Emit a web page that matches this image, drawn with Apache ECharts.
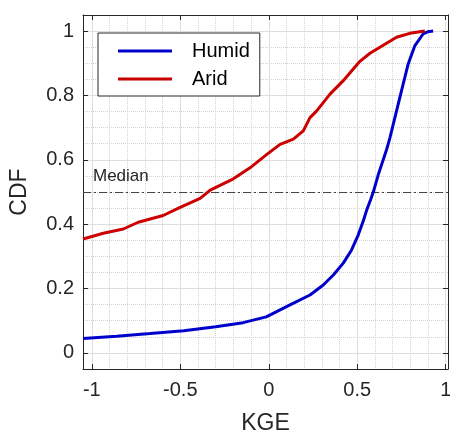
<!DOCTYPE html>
<html>
<head>
<meta charset="utf-8">
<script src="https://cdn.jsdelivr.net/npm/echarts@6/dist/echarts.min.js"></script>
<style>
  html, body { margin: 0; padding: 0; background: #fff; }
  #main { width: 450px; height: 435px; }
</style>
</head>
<body>
<div id="main"></div>
<script>
// valores
var humidKge = [-1.05, -0.86, -0.67, -0.48, -0.30, -0.145, -0.014, 0.120, 0.233, 0.308, 0.365, 0.421, 0.468, 0.506, 0.534, 0.553, 0.575, 0.592, 0.619, 0.666, 0.685, 0.741, 0.788, 0.826, 0.872, 0.90, 0.929];
var humidCdf = [0.045, 0.052, 0.060, 0.069, 0.081, 0.094, 0.112, 0.149, 0.180, 0.211, 0.242, 0.279, 0.320, 0.367, 0.410, 0.443, 0.475, 0.502, 0.554, 0.632, 0.669, 0.794, 0.898, 0.955, 0.991, 0.998, 1.0];

var aridKge = [-1.05, -0.935, -0.822, -0.738, -0.597, -0.501, -0.388, -0.331, -0.200, -0.106, -0.011, 0.064, 0.139, 0.195, 0.233, 0.271, 0.346, 0.421, 0.515, 0.572, 0.628, 0.722, 0.797, 0.882];
var aridCdf = [0.354, 0.372, 0.385, 0.406, 0.427, 0.452, 0.480, 0.506, 0.541, 0.575, 0.617, 0.648, 0.664, 0.690, 0.731, 0.752, 0.804, 0.846, 0.906, 0.931, 0.950, 0.981, 0.993, 1.0];

var medianCdf = 0.5;
var xLimits = [-1.05, 1.013];
var yLimits = [-0.05, 1.05];

function pares(xs, ys) {
    var out = [];
    for (var i = 0; i < xs.length; i++) {
        out.push([xs[i], ys[i]]);
    }
    return out;
}

var fuente = 'Liberation Sans';
var negro = '#262626';

var myChart = echarts.init(document.getElementById('main'), null, { renderer: 'canvas' });

var ejeBase = {
    type: 'value',
    axisLine: { show: true, onZero: false, lineStyle: { color: negro, width: 1 } },
    axisTick: { show: true, inside: true, length: 5, lineStyle: { color: negro } },
    axisLabel: { show: false },
    splitLine: { show: false }
};

var option = {
    animation: false,
    grid: { left: 83, right: 2, top: 15, bottom: 66, containLabel: false, outerBoundsMode: 'none' },
    textStyle: { fontFamily: fuente },
    legend: {
        orient: 'vertical',
        left: 98,
        top: 33,
        padding: [8, 10, 7, 20],
        itemGap: 8,
        itemWidth: 54,
        itemHeight: 3,
        icon: 'rect',
        borderColor: negro,
        borderWidth: 1,
        backgroundColor: '#fff',
        textStyle: { fontSize: 20, color: '#000', fontFamily: fuente, padding: [0, 0, 0, 15] },
        data: ['Humid', 'Arid']
    },
    xAxis: [
        Object.assign({}, ejeBase, {
            position: 'bottom',
            min: xLimits[0], max: xLimits[1],
            splitNumber: 4,
            name: 'KGE',
            nameLocation: 'middle',
            nameGap: 43,
            nameTextStyle: { fontSize: 23, color: negro, fontFamily: fuente },
            axisLabel: { show: true, fontSize: 20, color: negro, margin: 11, showMinLabel: false, showMaxLabel: false },
            splitLine: { show: true, lineStyle: { color: '#dedede', width: 1 } },
            minorTick: { show: false, splitNumber: 5 },
            minorSplitLine: { show: true, lineStyle: { color: '#d2d2d2', type: 'dotted', width: 1 } }
        }),
        Object.assign({}, ejeBase, {
            position: 'top',
            min: xLimits[0], max: xLimits[1],
            splitNumber: 4,
            axisLabel: { show: false, showMinLabel: false, showMaxLabel: false }
        })
    ],
    yAxis: [
        Object.assign({}, ejeBase, {
            position: 'left',
            min: yLimits[0], max: yLimits[1],
            splitNumber: 5,
            name: 'CDF',
            nameLocation: 'middle',
            nameGap: 52,
            nameTextStyle: { fontSize: 23, color: negro, fontFamily: fuente },
            axisLabel: { show: true, fontSize: 20, color: negro, margin: 9, showMinLabel: false, showMaxLabel: false },
            splitLine: { show: true, lineStyle: { color: '#dedede', width: 1 } },
            minorTick: { show: false, splitNumber: 4 },
            minorSplitLine: { show: true, lineStyle: { color: '#d2d2d2', type: 'dotted', width: 1 } }
        }),
        Object.assign({}, ejeBase, {
            position: 'right',
            min: yLimits[0], max: yLimits[1],
            splitNumber: 5
        })
    ],
    series: [
        {
            name: 'Humid',
            type: 'line',
            data: pares(humidKge, humidCdf),
            showSymbol: false,
            smooth: false,
            color: '#0000cc',
            lineStyle: { width: 3, color: '#0000cc' },
            z: 3
        },
        {
            name: 'Arid',
            type: 'line',
            data: pares(aridKge, aridCdf),
            showSymbol: false,
            smooth: false,
            color: '#cc0000',
            lineStyle: { width: 3, color: '#cc0000' },
            z: 4,
            markLine: {
                silent: true,
                symbol: 'none',
                lineStyle: { color: '#444', width: 1, type: [8, 3, 2, 3] },
                label: {
                    show: true,
                    formatter: 'Median',
                    position: 'insideStartTop',
                    distance: [10, 7],
                    fontSize: 17,
                    color: negro,
                    fontFamily: fuente
                },
                data: [{ yAxis: medianCdf }],
                z: 2
            }
        }
    ]
};

myChart.setOption(option);
window.addEventListener('resize', myChart.resize);
</script>
</body>
</html>
